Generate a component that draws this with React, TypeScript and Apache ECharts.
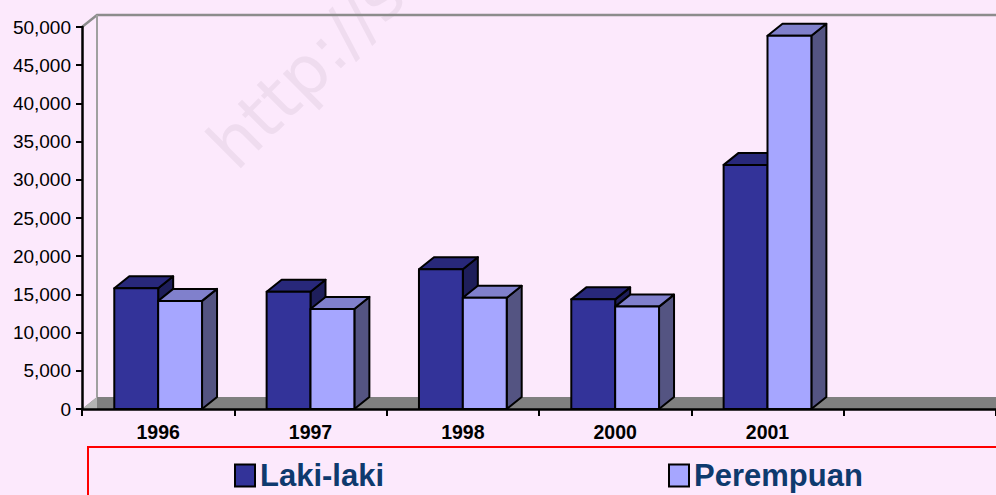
import React, { useEffect, useRef } from "react";
import * as echarts from "echarts";

const categories = ["1996", "1997", "1998", "2000", "2001", ""];
const lakiLaki = [15800, 15350, 18300, 14350, 31950];
const perempuan = [14150, 13100, 14550, 13400, 48850];
const seriesNames = ["Laki-laki", "Perempuan"];
const yTicks = { min: 0, max: 50000, interval: 5000 };

const W = 996;
const H = 495;
const GRID = { left: 82, top: 27, width: 915, height: 382 };
const DX = 15;
const DY = 12;
const BG = "#FCE9FC";
const FRONT = ["#333399", "#A6A6FF"];
const TOPC = ["#28287A", "#8080CC"];
const SIDE = ["#1E1E5A", "#545482"];
const FONT = "Arial, 'Liberation Sans', sans-serif";

function makeRender(si: number) {
  return (params: any, api: any) => {
    const idx = api.value(0);
    const val = api.value(1);
    const top = api.coord([idx, val]);
    const base = api.coord([idx, 0]);
    const cw = api.size([1, 0])[0];
    const bw = cw * 0.288;
    const cx = top[0];
    const x0 = si === 0 ? cx - bw : cx;
    const yT = top[1];
    const yB = base[1];
    const st = { stroke: "#000", lineWidth: 2, lineJoin: "round" };
    return {
      type: "group",
      children: [
        {
          type: "polygon",
          shape: {
            points: [
              [x0 + bw, yT],
              [x0 + bw + DX, yT - DY],
              [x0 + bw + DX, yB - DY],
              [x0 + bw, yB],
            ],
          },
          style: { fill: SIDE[si], ...st },
        },
        {
          type: "polygon",
          shape: {
            points: [
              [x0, yT],
              [x0 + bw, yT],
              [x0 + bw + DX, yT - DY],
              [x0 + DX, yT - DY],
            ],
          },
          style: { fill: TOPC[si], ...st },
        },
        {
          type: "rect",
          shape: { x: x0, y: yT, width: bw, height: yB - yT },
          style: { fill: FRONT[si], ...st },
        },
      ],
    };
  };
}

export default function App() {
  const ref = useRef<HTMLDivElement>(null);
  useEffect(() => {
    document.body.style.margin = "0";
    document.body.style.background = BG;
    const chart = echarts.init(ref.current!, null, { renderer: "svg" });
    const gl = GRID.left;
    const gt = GRID.top;
    const gb = GRID.top + GRID.height;
    const gr = GRID.left + GRID.width;
    const legendCommon = {
      orient: "horizontal",
      top: 455,
      icon: "rect",
      itemWidth: 20,
      itemHeight: 22,
      textStyle: {
        fontSize: 31,
        fontWeight: "bold",
        color: "#0E3A6E",
        fontFamily: FONT,
      },
      selectedMode: false,
    };
    chart.setOption({
      animation: false,
      backgroundColor: BG,
      grid: { ...GRID },
      legend: [
        {
          ...legendCommon,
          left: 229,
          data: [
            {
              name: seriesNames[0],
              itemStyle: { color: FRONT[0], borderColor: "#000", borderWidth: 2 },
            },
          ],
        },
        {
          ...legendCommon,
          left: 663,
          data: [
            {
              name: seriesNames[1],
              itemStyle: { color: FRONT[1], borderColor: "#000", borderWidth: 2 },
            },
          ],
        },
      ],
      xAxis: {
        type: "category",
        data: categories,
        boundaryGap: true,
        z: 10,
        axisLine: { show: true, lineStyle: { color: "#000", width: 2.5 } },
        axisTick: { show: true, length: 7, lineStyle: { color: "#000", width: 2 } },
        axisLabel: {
          margin: 13,
          fontSize: 19.5,
          fontWeight: "bold",
          color: "#000",
          fontFamily: FONT,
        },
        splitLine: { show: false },
      },
      yAxis: {
        type: "value",
        min: yTicks.min,
        max: yTicks.max,
        interval: yTicks.interval,
        z: 10,
        axisLine: { show: true, lineStyle: { color: "#000", width: 2.5 } },
        axisTick: { show: true, length: 6, lineStyle: { color: "#000", width: 2 } },
        axisLabel: {
          margin: 11,
          fontSize: 19,
          color: "#000",
          fontFamily: FONT,
          formatter: (v: number) => v.toLocaleString("en-US"),
        },
        splitLine: { show: false },
      },
      graphic: [
        {
          type: "text",
          z: 1,
          x: 244,
          y: 180,
          rotation: Math.PI / 4,
          silent: true,
          style: {
            text: "http://s",
            fontSize: 68,
            fontFamily: "'DejaVu Sans', sans-serif",
            fontWeight: "normal",
            fill: "#EFDCEF",
            verticalAlign: "bottom",
          },
        },
        {
          type: "polygon",
          z: 1,
          silent: true,
          shape: {
            points: [
              [gl, gb],
              [gl + DX, gb - DY],
              [gr + DX, gb - DY],
              [gr, gb],
            ],
          },
          style: { fill: "#808080" },
        },
        {
          type: "polygon",
          z: 1,
          silent: true,
          shape: {
            points: [
              [gl, gb],
              [gl + DX, gb - DY],
              [gl + DX, gb],
            ],
          },
          style: { fill: "#B4B4B4" },
        },
        {
          type: "polyline",
          z: 1,
          silent: true,
          shape: {
            points: [
              [gl, gt],
              [gl + DX, gt - DY],
              [gr + DX, gt - DY],
            ],
          },
          style: { stroke: "#8C8C8C", lineWidth: 2.5, fill: "none" },
        },
        {
          type: "line",
          z: 1,
          silent: true,
          shape: { x1: gl + DX, y1: gt - DY, x2: gl + DX, y2: gb - DY },
          style: { stroke: "#A0A0A0", lineWidth: 2 },
        },
        {
          type: "rect",
          z: 1,
          silent: true,
          shape: { x: 88, y: 447, width: 1000, height: 100 },
          style: { fill: "none", stroke: "#FF0000", lineWidth: 2 },
        },
      ],
      series: [
        {
          name: seriesNames[0],
          type: "custom",
          z: 5,
          itemStyle: { color: FRONT[0] },
          encode: { x: 0, y: 1 },
          data: lakiLaki.map((v, i) => [i, v]),
          renderItem: makeRender(0),
        },
        {
          name: seriesNames[1],
          type: "custom",
          z: 6,
          itemStyle: { color: FRONT[1] },
          encode: { x: 0, y: 1 },
          data: perempuan.map((v, i) => [i, v]),
          renderItem: makeRender(1),
        },
      ],
    });
    return () => chart.dispose();
  }, []);
  return (
    <div
      ref={ref}
      style={{ position: "fixed", left: 0, top: 0, width: W, height: H }}
    />
  );
}
